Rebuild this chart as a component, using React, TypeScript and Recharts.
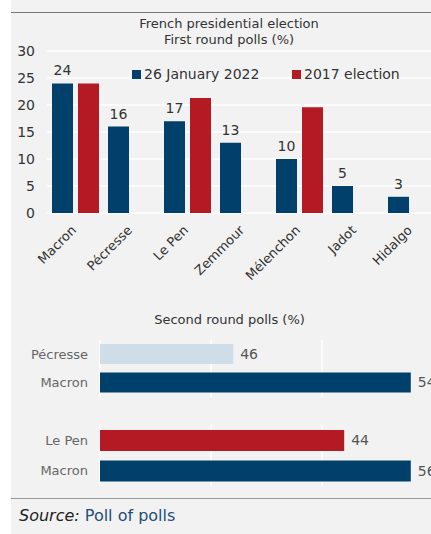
import React from "react";
import {BarChart, Bar, XAxis, YAxis, CartesianGrid, Legend, LabelList, Cell} from "recharts";

const candidates = ["Macron", "Pécresse", "Le Pen", "Zemmour", "Mélenchon", "Jadot", "Hidalgo"];
const polls2022 = [24, 16, 17, 13, 10, 5, 3];
const results2017: (number | null)[] = [24.0, null, 21.3, null, 19.6, null, null];
const firstRoundTicks = [0, 5, 10, 15, 20, 25, 30];

const duelA = ["Pécresse", "Macron"];
const duelAValues = [46, 54];
const duelATicks = [40, 45, 50, 55];

const duelB = ["Le Pen", "Macron"];
const duelBValues = [44, 56];
const duelBTicks = [0, 20, 40, 60];

const NAVY = "#00406a";
const RED = "#b31a23";
const LIGHT = "#cfdde8";
const FONT = "'DejaVu Sans', sans-serif";

const firstRound = candidates.map((name, i) => ({
  name,
  now: polls2022[i],
  prev: results2017[i],
}));
const secondA = duelA.map((name, i) => ({ name, value: duelAValues[i] }));
const secondB = duelB.map((name, i) => ({ name, value: duelBValues[i] }));

const duelColors: Record<string, string> = { "Pécresse": LIGHT, "Le Pen": RED, Macron: NAVY };

const AngledTick = (props: any) => {
  const { x, y, payload } = props;
  return (
    <g transform={`translate(${x + 2},${y + 10})`}>
      <text x={0} y={0} textAnchor="end" fill="#333" fontSize={13} fontFamily={FONT} transform="rotate(-45)">
        {payload.value}
      </text>
    </g>
  );
};

const LegendBox = () => (
  <div style={{ display: "flex", fontFamily: FONT, fontSize: 14, color: "#333" }}>
    <div style={{ display: "flex", alignItems: "center", width: 160 }}>
      <span style={{ width: 9, height: 9, background: NAVY, marginRight: 3, display: "inline-block" }} />
      26 January 2022
    </div>
    <div style={{ display: "flex", alignItems: "center" }}>
      <span style={{ width: 9, height: 9, background: RED, marginRight: 3, display: "inline-block" }} />
      2017 election
    </div>
  </div>
);

const DuelChart = ({ data, ticks, top, height, barSize }: any) => (
  <div style={{ position: "absolute", left: 0, top }}>
    <BarChart width={422} height={height} data={data} layout="vertical" margin={{ top: 0, right: 0, bottom: 0, left: 0 }}>
      <CartesianGrid horizontal={false} stroke="#fff" strokeWidth={1.5} />
      <XAxis type="number" domain={[ticks[0], ticks[ticks.length - 1]]} ticks={ticks} hide allowDataOverflow />
      <YAxis
        type="category"
        dataKey="name"
        width={89}
        axisLine={false}
        tickLine={false}
        tickMargin={6}
        tick={{ fill: "#666", fontSize: 13, fontFamily: FONT }}
      />
      <Bar dataKey="value" barSize={barSize} isAnimationActive={false}>
        {data.map((d: any) => (
          <Cell key={d.name} fill={duelColors[d.name]} />
        ))}
        <LabelList dataKey="value" position="right" offset={7} fill="#555" fontSize={14} fontFamily={FONT} />
      </Bar>
    </BarChart>
  </div>
);

export default function App() {
  return (
    <div style={{ position: "absolute", left: 0, top: 0, width: 431, height: 534, overflow: "hidden", background: "#fff" }}>
      <div style={{ position: "absolute", left: 11, top: 0, width: 440, height: 534, background: "#f2f2f2" }}>
        <div style={{ position: "absolute", left: 0, top: 12, width: 440, height: 1, background: "#777" }} />
        <div
          style={{
            position: "absolute",
            left: 0,
            top: 16,
            width: 436,
            textAlign: "center",
            fontFamily: FONT,
            fontSize: 13,
            lineHeight: "16px",
            color: "#333",
          }}
        >
          French presidential election
          <br />
          First round polls (%)
        </div>

        <div style={{ position: "absolute", left: 0, top: 0 }}>
          <BarChart width={428} height={290} data={firstRound} barGap={5} margin={{ top: 51, right: 0, bottom: 0, left: 0 }}>
            <CartesianGrid vertical={false} stroke="#fff" strokeWidth={1.5} />
            <XAxis dataKey="name" height={77} axisLine={false} tickLine={false} interval={0} tick={<AngledTick />} />
            <YAxis
              width={36}
              domain={[0, 30]}
              ticks={firstRoundTicks}
              axisLine={false}
              tickLine={false}
              tickMargin={6}
              tick={{ fill: "#333", fontSize: 14, fontFamily: FONT }}
            />
            <Legend
              verticalAlign="middle"
              align="center"
              content={<LegendBox />}
              wrapperStyle={{ top: 66, left: 121, width: 300, bottom: "auto", right: "auto" }}
            />
            <Bar dataKey="now" fill={NAVY} barSize={21} isAnimationActive={false}>
              <LabelList dataKey="now" position="top" offset={8} fill="#333" fontSize={14} fontFamily={FONT} />
            </Bar>
            <Bar dataKey="prev" fill={RED} barSize={21} isAnimationActive={false} />
          </BarChart>
        </div>

        <div
          style={{
            position: "absolute",
            left: 0,
            top: 312,
            width: 437,
            textAlign: "center",
            fontFamily: FONT,
            fontSize: 13,
            color: "#333",
          }}
        >
          Second round polls (%)
        </div>

        <DuelChart data={secondA} ticks={duelATicks} top={340} height={57} barSize={20} />
        <DuelChart data={secondB} ticks={duelBTicks} top={425} height={61} barSize={21} />

        <div style={{ position: "absolute", left: 0, top: 498, width: 440, height: 1, background: "#999" }} />
        <div style={{ position: "absolute", left: 8, top: 506, fontFamily: FONT, fontSize: 16, color: "#222" }}>
          <i>Source:</i> <span style={{ color: "#1f4e79" }}>Poll of polls</span>
        </div>
      </div>
    </div>
  );
}
